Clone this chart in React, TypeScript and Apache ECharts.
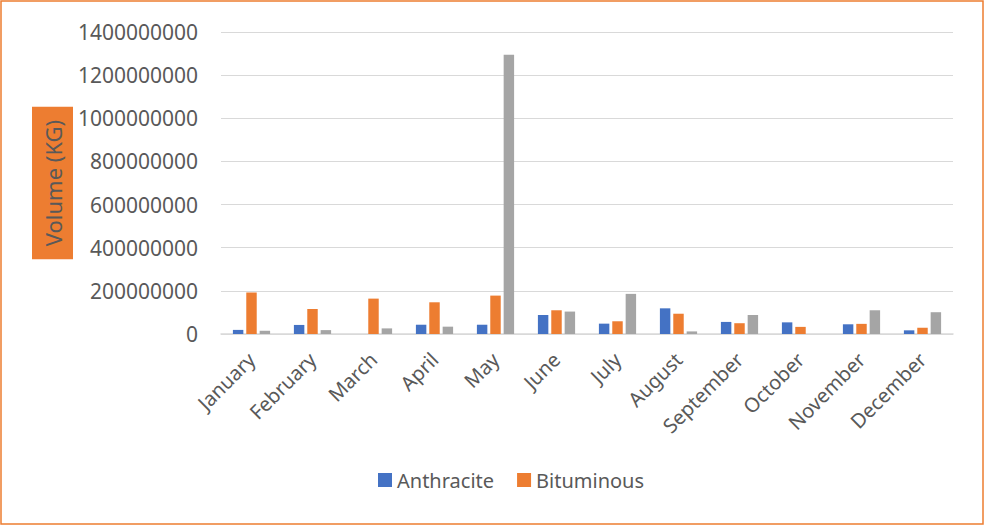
import React, { useEffect, useRef } from "react";
import * as echarts from "echarts";

const months = ["January", "February", "March", "April", "May", "June", "July", "August", "September", "October", "November", "December"];
const anthracite = [19000000, 42000000, 0, 43000000, 43000000, 88000000, 48000000, 119000000, 56000000, 54000000, 45000000, 17000000];
const bituminous = [192000000, 116000000, 164000000, 147000000, 178000000, 110000000, 59000000, 94000000, 50000000, 33000000, 47000000, 29000000];
const other = [15000000, 18000000, 26000000, 34000000, 1295000000, 104000000, 186000000, 12000000, 88000000, 0, 110000000, 101000000];
const yTicks = { min: 0, max: 1400000000, interval: 200000000 };

const FONT = "Noto Sans";
const TXT = "#595959";

export default function App() {
  const ref = useRef<HTMLDivElement>(null);
  useEffect(() => {
    if (!ref.current) return;
    const chart = echarts.init(ref.current, null, { renderer: "svg" });
    const barCommon = { type: "bar" as const, barGap: "28%", barCategoryGap: "39%" };
    chart.setOption({
      animation: false,
      backgroundColor: "#ffffff",
      textStyle: { fontFamily: FONT },
      grid: { left: 221, right: 32, top: 32, bottom: 192, containLabel: false },
      legend: {
        data: ["Anthracite", "Bituminous"],
        left: 373,
        top: 465,
        itemWidth: 14,
        itemHeight: 14,
        itemGap: 23,
        icon: "rect",
        textStyle: { color: TXT, fontSize: 20, fontFamily: FONT },
      },
      xAxis: {
        type: "category",
        data: months,
        axisLine: { show: true, lineStyle: { color: "#d9d9d9", width: 1.5 } },
        axisTick: { show: false },
        axisLabel: { rotate: 45, color: TXT, fontSize: 20, fontFamily: FONT, margin: 22, interval: 0 },
      },
      yAxis: {
        type: "value",
        min: yTicks.min,
        max: yTicks.max,
        interval: yTicks.interval,
        name: "Volume (KG)",
        nameLocation: "middle",
        nameGap: 148,
        nameMoveOverlap: false,
        nameTextStyle: {
          color: TXT,
          fontSize: 22,
          fontFamily: FONT,
          backgroundColor: "#ED7D31",
          padding: [8, 13, 7, 13],
          lineHeight: 26,
        },
        axisLine: { show: false },
        axisTick: { show: false },
        axisLabel: {
          color: TXT,
          fontSize: 21,
          fontFamily: FONT,
          margin: 23,
          formatter: (v: number) => String(v),
        },
        splitLine: { lineStyle: { color: "#d9d9d9", width: 1.2 } },
      },
      series: [
        { ...barCommon, name: "Anthracite", data: anthracite, itemStyle: { color: "#4472C4" } },
        { ...barCommon, name: "Bituminous", data: bituminous, itemStyle: { color: "#ED7D31" } },
        { ...barCommon, name: "Other", data: other, itemStyle: { color: "#A5A5A5" } },
      ],
      graphic: [
        {
          type: "rect",
          shape: { x: 1, y: 1, width: 982, height: 523 },
          style: { fill: "none", stroke: "#ED7D31", lineWidth: 1.5 },
          silent: true,
        },
      ],
    });
    return () => chart.dispose();
  }, []);
  return <div ref={ref} style={{ position: "fixed", left: 0, top: 0, width: 985, height: 526 }} />;
}
